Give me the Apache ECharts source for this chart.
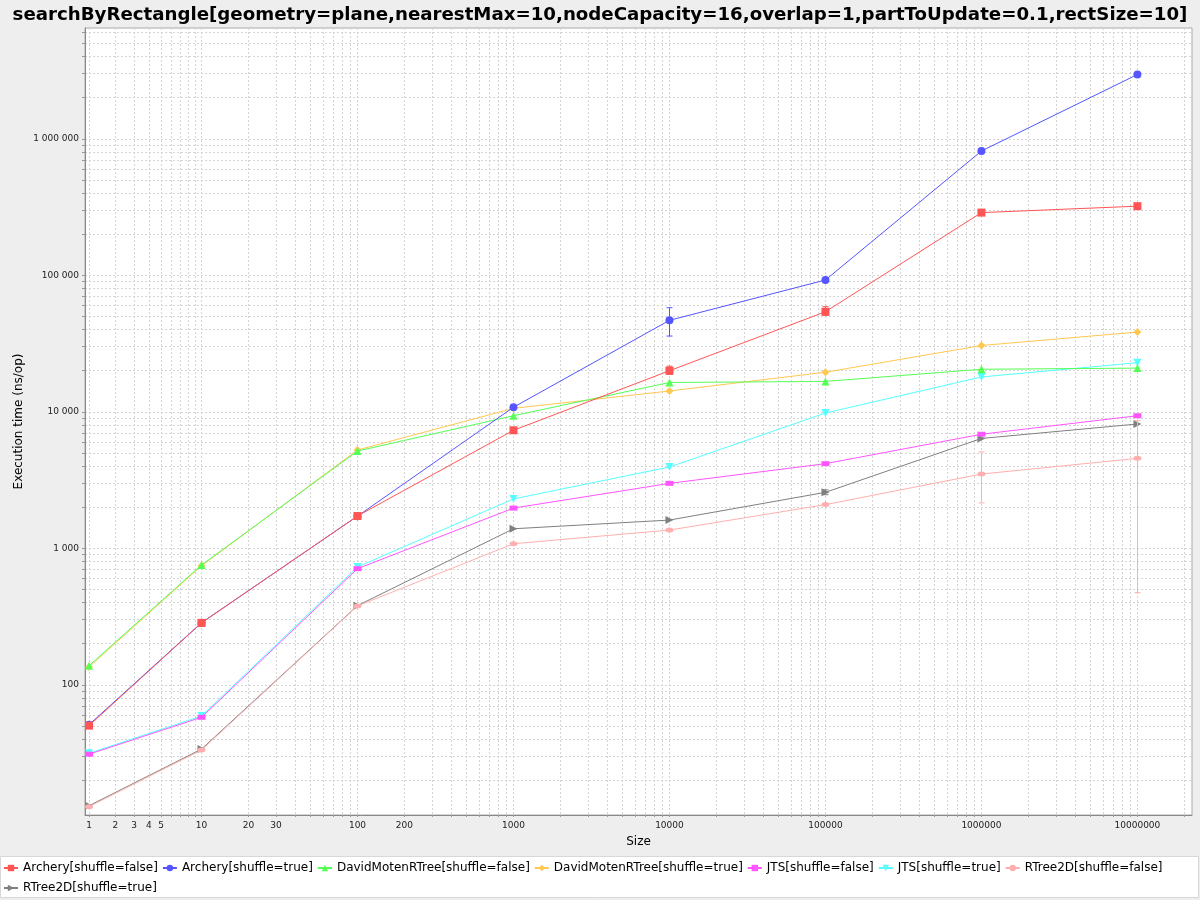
<!DOCTYPE html>
<html>
<head>
<meta charset="utf-8">
<title>searchByRectangle</title>
<script src="https://cdn.jsdelivr.net/npm/echarts@6/dist/echarts.min.js"></script>
<style>
  html, body { margin: 0; padding: 0; background: #eeeeee; }
  #chart { width: 1200px; height: 900px; }
</style>
</head>
<body>
<div id="chart"></div>
<script>
// benchmark sizes (x axis)
const sizes = [1, 10, 100, 1000, 10000, 100000, 1000000, 10000000];

// execution time in ns/op, one array per series
const archeryFalse = [50.2, 284, 1725, 7320, 20000, 54100, 288000, 321000];
const archeryTrue = [51, 285, 1720, 10800, 46800, 92400, 814000, 2960000];
const davidMotenFalse = [138, 755, 5160, 9360, 16400, 16700, 20500, 20900];
const davidMotenTrue = [135, 745, 5250, 10600, 14200, 19500, 30600, 38400];
const jtsFalse = [31.0, 57.8, 709, 1970, 2990, 4170, 6850, 9360];
const jtsTrue = [31.5, 59, 730, 2300, 3940, 9800, 18000, 22900];
const rtree2dFalse = [12.8, 33.3, 378, 1080, 1360, 2090, 3500, 4560];
const rtree2dTrue = [13.0, 33.8, 380, 1390, 1610, 2570, 6380, 8140];

// error bars (only the visible ones)
const archeryFalseErrLow = [null, null, null, null, 18800, 50900, null, null];
const archeryFalseErrHigh = [null, null, null, null, 21600, 58900, null, null];
const archeryTrueErrLow = [null, null, null, null, 35900, null, null, null];
const archeryTrueErrHigh = [null, null, null, null, 57900, null, null, null];
const rtree2dFalseErrLow = [null, null, null, null, null, null, 2150, 473];
const rtree2dFalseErrHigh = [null, null, null, null, null, null, 5080, 8610];
const rtree2dTrueErrLow = [null, null, null, null, null, 2470, null, null];
const rtree2dTrueErrHigh = [null, null, null, null, null, 2680, null, null];

const seriesNames = [
  'Archery[shuffle=false]', 'Archery[shuffle=true]',
  'DavidMotenRTree[shuffle=false]', 'DavidMotenRTree[shuffle=true]',
  'JTS[shuffle=false]', 'JTS[shuffle=true]',
  'RTree2D[shuffle=false]', 'RTree2D[shuffle=true]'
];
const seriesValues = [archeryFalse, archeryTrue, davidMotenFalse, davidMotenTrue,
  jtsFalse, jtsTrue, rtree2dFalse, rtree2dTrue];

// tick labels
const xTickLabels = [1, 2, 3, 4, 5, 10, 20, 30, 100, 200, 1000, 10000, 100000, 1000000, 10000000];
const yTickLabels = [100, 1000, 10000, 100000, 1000000];

// styles
const colors = ['#ff5555', '#5555ff', '#55ff55', '#ffc850', '#ff55ff', '#55ffff', '#ffafaf', '#808080'];
const shapes = [
  { symbol: 'rect', size: 8, rotate: 0 },
  { symbol: 'circle', size: 8, rotate: 0 },
  { symbol: 'triangle', size: 8, rotate: 0 },
  { symbol: 'diamond', size: 8, rotate: 0 },
  { symbol: 'rect', size: [8, 5], rotate: 0 },
  { symbol: 'triangle', size: 8, rotate: 180 },
  { symbol: 'circle', size: [8, 5], rotate: 0 },
  { symbol: 'triangle', size: 8, rotate: -90 }
];
const FONT = 'DejaVu Sans';

// "adjusted" log10 used by the original x axis (values below 10 are squeezed)
function sx(v) {
  return Math.log10(v < 10 ? v + (10 - v) / 10 : v);
}
function sxInv(t) {
  const p = Math.pow(10, t);
  return p < 10 ? (p - 1) / 0.9 : p;
}
function sy(v) {
  return Math.log10(v);
}
function syInv(t) {
  return Math.pow(10, t);
}

const xMin = 0.253, xMax = 7.35;
const yMin = 1.046, yMax = 6.812;

// minor ticks 1..9 x 10^d
function minorTicks(f, lo, hi) {
  const out = [];
  for (let d = 0; d <= 8; d++) {
    for (let k = 1; k <= 9; k++) {
      const t = f(k * Math.pow(10, d));
      if (t >= lo && t <= hi) out.push(t);
    }
  }
  return out;
}

function spaced(n) {
  return String(Math.round(n)).replace(/\B(?=(\d{3})+(?!\d))/g, ' ');
}

function errorData(low, high) {
  const out = [];
  sizes.forEach((s, i) => {
    if (low[i] != null) out.push([sx(s), sy(low[i]), sy(high[i])]);
  });
  return out;
}

function errorSeries(low, high, color) {
  return {
    type: 'custom',
    silent: true,
    z: 20,
    data: errorData(low, high),
    encode: { x: 0, y: [1, 2] },
    renderItem: function (params, api) {
      const x = api.value(0);
      const top = api.coord([x, api.value(2)]);
      const bot = api.coord([x, api.value(1)]);
      const px = Math.round(top[0]) + 0.5;
      const c = 3;
      const style = { stroke: color, lineWidth: 1 };
      return {
        type: 'group',
        children: [
          { type: 'line', shape: { x1: px, y1: top[1], x2: px, y2: bot[1] }, style: style },
          { type: 'line', shape: { x1: px - c, y1: top[1], x2: px + c, y2: top[1] }, style: style },
          { type: 'line', shape: { x1: px - c, y1: bot[1], x2: px + c, y2: bot[1] }, style: style }
        ]
      };
    }
  };
}

const chart = echarts.init(document.getElementById('chart'));

const series = seriesNames.map((name, i) => ({
  name: name,
  type: 'line',
  data: sizes.map((s, j) => [sx(s), sy(seriesValues[i][j])]),
  symbol: shapes[i].symbol,
  symbolSize: shapes[i].size,
  symbolRotate: shapes[i].rotate,
  showAllSymbol: true,
  z: 20 - i,
  lineStyle: { width: 1, color: colors[i] },
  itemStyle: { color: colors[i] },
  emphasis: { disabled: true }
}));

series.push(errorSeries(archeryFalseErrLow, archeryFalseErrHigh, colors[0]));
series.push(errorSeries(archeryTrueErrLow, archeryTrueErrHigh, colors[1]));
series.push(errorSeries(rtree2dFalseErrLow, rtree2dFalseErrHigh, colors[6]));
series.push(errorSeries(rtree2dTrueErrLow, rtree2dTrueErrHigh, colors[7]));

const gridLine = { show: true, lineStyle: { type: [2, 2], color: '#d4d4d4', width: 1 } };

chart.setOption({
  animation: false,
  backgroundColor: '#eeeeee',
  textStyle: { fontFamily: FONT },
  title: {
    text: 'searchByRectangle[geometry=plane,nearestMax=10,nodeCapacity=16,overlap=1,partToUpdate=0.1,rectSize=10]',
    left: 'center',
    top: 1,
    textStyle: { fontFamily: FONT, fontSize: 18.2, fontWeight: 'bold', color: '#000' }
  },
  // white box behind the legend
  graphic: [{
    type: 'rect',
    z: -1,
    shape: { x: 0.5, y: 856.5, width: 1198, height: 41 },
    style: { fill: '#ffffff', stroke: '#d8d8d8', lineWidth: 1 }
  }],
  legend: {
    data: seriesNames,
    left: 3,
    top: 860,
    width: 1185,
    padding: 0,
    itemWidth: 14,
    itemHeight: 8,
    itemGap: 4,
    textStyle: { fontFamily: FONT, fontSize: 12, lineHeight: 16, color: '#000' }
  },
  grid: {
    left: 85, right: 8, top: 28, bottom: 85,
    show: true,
    backgroundColor: '#ffffff',
    borderColor: '#aaaaaa',
    borderWidth: 1
  },
  xAxis: {
    type: 'value',
    min: xMin,
    max: xMax,
    name: 'Size',
    nameLocation: 'middle',
    nameGap: 21,
    nameTextStyle: { fontFamily: FONT, fontSize: 12, color: '#000' },
    axisLine: { show: true, onZero: false, lineStyle: { color: '#888888' } },
    axisTick: { show: true, length: 2, customValues: minorTicks(sx, xMin, xMax), lineStyle: { color: '#999999' } },
    axisLabel: {
      customValues: xTickLabels.map(sx),
      formatter: v => String(Math.round(sxInv(v))),
      fontFamily: FONT, fontSize: 9, color: '#222', margin: 6
    },
    splitLine: gridLine
  },
  yAxis: {
    type: 'value',
    min: yMin,
    max: yMax,
    name: 'Execution time (ns/op)',
    nameLocation: 'middle',
    nameGap: 60,
    nameMoveOverlap: false,
    nameTextStyle: { fontFamily: FONT, fontSize: 12, color: '#000' },
    axisLine: { show: true, onZero: false, lineStyle: { color: '#888888' } },
    axisTick: { show: true, length: 3, customValues: minorTicks(sy, yMin, yMax), lineStyle: { color: '#999999' } },
    axisLabel: {
      customValues: yTickLabels.map(sy),
      formatter: v => spaced(syInv(v)),
      fontFamily: FONT, fontSize: 9, color: '#222', margin: 6
    },
    splitLine: gridLine
  },
  series: series
});
</script>
</body>
</html>
